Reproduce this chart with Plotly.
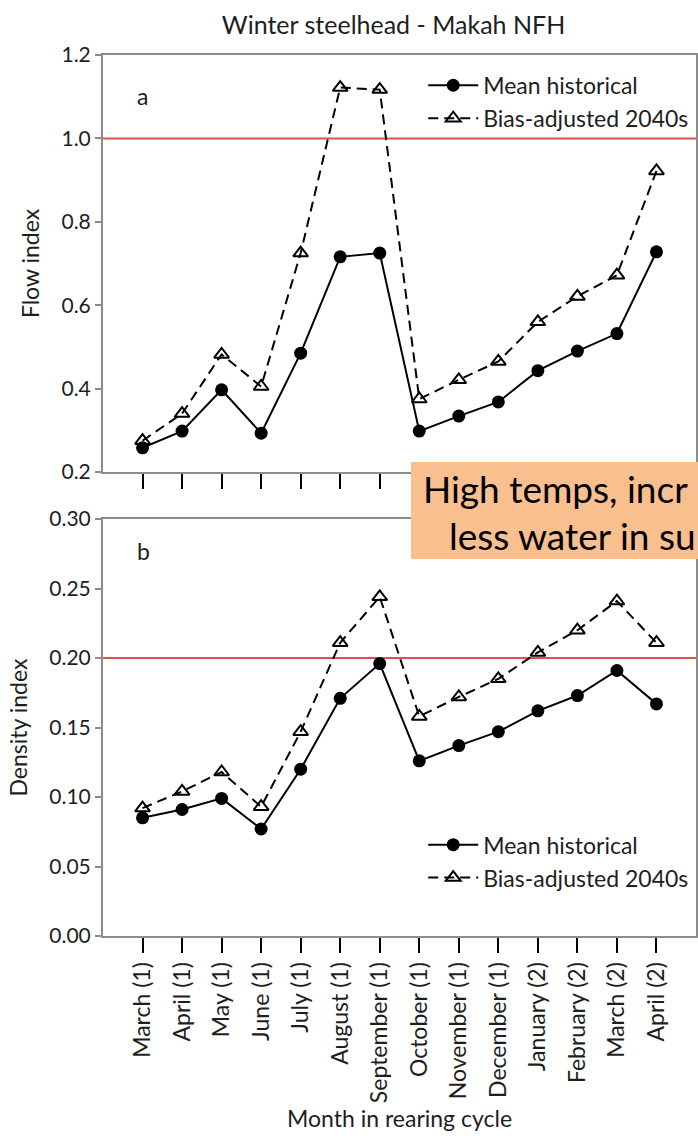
import plotly.graph_objects as go
from plotly.subplots import make_subplots

months = ["March (1)", "April (1)", "May (1)", "June (1)", "July (1)", "August (1)",
          "September (1)", "October (1)", "November (1)", "December (1)",
          "January (2)", "February (2)", "March (2)", "April (2)"]

flow_hist = [0.258, 0.298, 0.397, 0.293, 0.485, 0.716, 0.725, 0.298, 0.334, 0.368,
             0.443, 0.490, 0.532, 0.728]
flow_2040 = [0.275, 0.340, 0.482, 0.405, 0.725, 1.122, 1.117, 0.375, 0.421, 0.465,
             0.560, 0.621, 0.672, 0.922]
dens_hist = [0.085, 0.091, 0.099, 0.077, 0.120, 0.171, 0.196, 0.126, 0.137, 0.147,
             0.162, 0.173, 0.191, 0.167]
dens_2040 = [0.092, 0.104, 0.118, 0.093, 0.147, 0.211, 0.244, 0.158, 0.172, 0.185,
             0.204, 0.220, 0.241, 0.211]

flow_threshold = 1.0
dens_threshold = 0.20

FONT = "Lato"
TXT = "#1e1e1e"
x = list(range(len(months)))

fig = make_subplots(rows=2, cols=1, shared_xaxes=False, vertical_spacing=0.0534)

def add_pair(row, hist, fut, legend):
    fig.add_trace(go.Scatter(x=x, y=hist, mode="lines+markers", name="Mean historical",
                             line=dict(color="black", width=2),
                             marker=dict(symbol="circle", size=13, color="black"),
                             legend=legend), row=row, col=1)
    fig.add_trace(go.Scatter(x=x, y=fut, mode="lines+markers", name="Bias-adjusted 2040s",
                             line=dict(color="black", width=2, dash="10px,6px"),
                             marker=dict(symbol="triangle-up-open", size=13, color="black",
                                         line=dict(width=2, color="black")),
                             legend=legend), row=row, col=1)

fig.add_trace(go.Scatter(x=[-1, 14], y=[flow_threshold, flow_threshold], mode="lines",
                         line=dict(color="#e0504f", width=2), showlegend=False,
                         hoverinfo="skip"), row=1, col=1)
fig.add_trace(go.Scatter(x=[-1, 14], y=[dens_threshold, dens_threshold], mode="lines",
                         line=dict(color="#e0504f", width=2), showlegend=False,
                         hoverinfo="skip"), row=2, col=1)

add_pair(1, flow_hist, flow_2040, "legend")
add_pair(2, dens_hist, dens_2040, "legend2")

axis_common = dict(showline=True, linecolor="#8c8c8c", linewidth=2, mirror=True,
                   showgrid=False, zeroline=False, automargin=False)

fig.update_xaxes(**axis_common, range=[-1, 14], tickmode="array", tickvals=x,
                 ticks="outside", ticklen=15, tickwidth=2, tickcolor="black")
fig.update_xaxes(showticklabels=False, row=1, col=1)
fig.update_xaxes(ticktext=months, tickangle=-90, showticklabels=True,
                 tickfont=dict(family=FONT, size=23, color=TXT),
                 row=2, col=1)

fig.update_yaxes(**axis_common, ticks="outside", ticklen=6, tickwidth=1.5, tickcolor="#8c8c8c",
                 tickfont=dict(family=FONT, size=21, color=TXT))
fig.update_yaxes(range=[0.2, 1.2], dtick=0.2, tickformat=".1f",
                 title=dict(text="Flow index", font=dict(family=FONT, size=23, color=TXT)),
                 row=1, col=1)
fig.update_yaxes(range=[0, 0.30], dtick=0.05, tickformat=".2f",
                 title=dict(text="Density index", font=dict(family=FONT, size=23, color=TXT)),
                 row=2, col=1)

legend_font = dict(family=FONT, size=23, color=TXT)
fig.update_layout(
    width=698, height=1139,
    margin=dict(l=103, r=2, t=55, b=203),
    plot_bgcolor="white", paper_bgcolor="white",
    title=dict(text="Winter steelhead - Makah NFH", x=0.49, xref="paper", xanchor="center",
               y=1 - 25 / 1139, yanchor="middle", font=dict(family=FONT, size=25, color=TXT)),
    legend=dict(x=0.54, y=0.99, xanchor="left", yanchor="top", font=legend_font,
                bgcolor="rgba(0,0,0,0)", tracegroupgap=0, itemwidth=50),
    legend2=dict(x=0.54, y=0.128, xanchor="left", yanchor="top", font=legend_font,
                 bgcolor="rgba(0,0,0,0)", tracegroupgap=0, itemwidth=50),
    showlegend=True,
)

fig.add_annotation(text="Month in rearing cycle", xref="paper", yref="paper",
                   x=0.5, y=(936 - 1118) / 881, xanchor="center", yanchor="middle",
                   showarrow=False, font=dict(family=FONT, size=23, color=TXT))

fig.add_annotation(text="a", xref="paper", yref="paper", x=0.054, y=(936 - 80) / 881,
                   showarrow=False, font=dict(family=FONT, size=23, color=TXT))
fig.add_annotation(text="b", xref="paper", yref="paper", x=0.054, y=(936 - 551) / 881,
                   showarrow=False, font=dict(family=FONT, size=23, color=TXT))

fig.add_shape(type="rect", xref="paper", yref="paper",
              x0=(411 - 103) / 593, x1=1.05, y0=(936 - 559) / 881, y1=(936 - 462) / 881,
              fillcolor="#f9bf8f", line=dict(width=0), layer="above")
fig.add_annotation(text="High temps, incr", xref="paper", yref="paper",
                   x=(421 - 103) / 593, y=(936 - 488) / 881, xanchor="left", yanchor="middle",
                   showarrow=False, font=dict(family=FONT, size=37, color="black"))
fig.add_annotation(text="less water in su", xref="paper", yref="paper",
                   x=(447 - 103) / 593, y=(936 - 535) / 881, xanchor="left", yanchor="middle",
                   showarrow=False, font=dict(family=FONT, size=37, color="black"))

fig.write_html("out.html")
